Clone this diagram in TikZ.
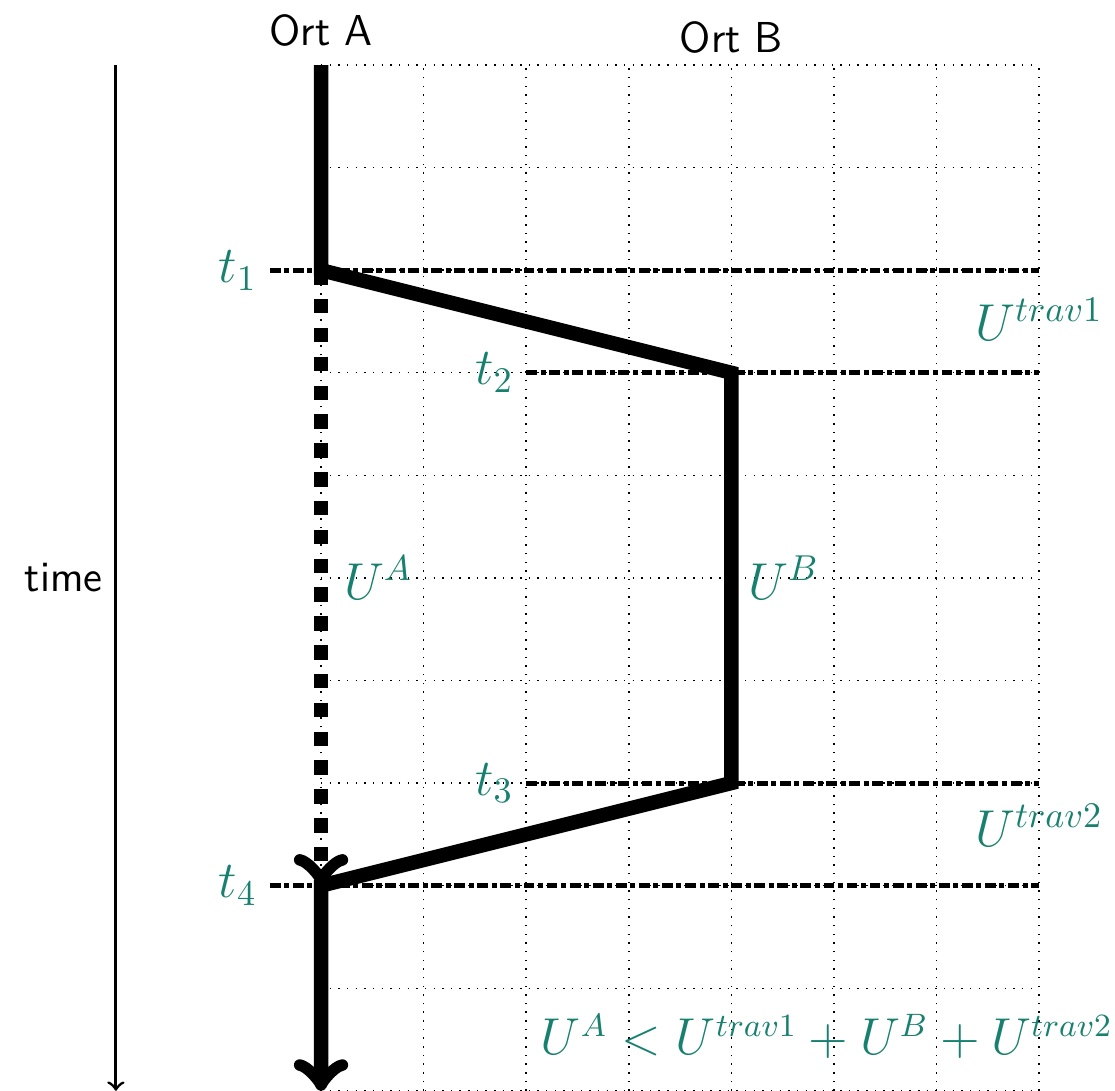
\documentclass[tikz,border=0pt]{standalone}
\usepackage{tikz}
\usetikzlibrary{positioning, calc}
\definecolor{labelteal}{HTML}{18806F}

\begin{document}
\begin{tikzpicture}[
  helpgrid/.style={dotted},
  worldline/.style={line width=4pt, ->},
  waitline/.style={line width=4pt, loosely dotted, ->},
  timemark/.style={line width=1.4pt, densely dashdotted},
  tlabel/.style={text=labelteal, font=\Large, left},
  ulabel/.style={text=labelteal, font=\Large},
  place/.style={font=\large\sffamily},
  arrow/.style={->, thick}
]
  \useasboundingbox (-3.13,-10) rectangle (7.74,0.634);

  % grid
  \draw[helpgrid] (0,-10) grid (7,0);

  % points in time
  \coordinate (A0) at (0,0);
  \coordinate (A1) at (0,-2);
  \coordinate (B2) at (4,-3);
  \coordinate (B3) at (4,-7);
  \coordinate (A4) at (0,-8);
  \coordinate (A5) at (0,-10);

  % time axis
  \coordinate (tstart) at (-2,0);
  \coordinate (tend) at (-2,-10);
  \draw[arrow] (tstart) -- (tend) node[midway, left, place] (timelabel) {time};

  \node[place] (ortA) at (0,0.34) {Ort A};
  \node[place] (ortB) at (4,0.27) {Ort B};

  % time marks
  \coordinate (m1) at (-0.5,-2);
  \coordinate (m2) at (2,-3);
  \coordinate (m3) at (2,-7);
  \coordinate (m4) at (-0.5,-8);
  \draw[timemark] (m1) -- ++(7.5,0);
  \draw[timemark] (m2) -- ++(5,0);
  \draw[timemark] (m3) -- ++(5,0);
  \draw[timemark] (m4) -- ++(7.5,0);
  \node[tlabel] (t1) at (m1) {$t_1$};
  \node[tlabel] (t2) at (m2) {$t_2$};
  \node[tlabel] (t3) at (m3) {$t_3$};
  \node[tlabel] (t4) at (m4) {$t_4$};

  % paths
  \draw[waitline] (A1) -- (A4);
  \draw[worldline] (A0) -- (A1) -- (B2) -- (B3) -- (A4) -- (A5);

  \node[ulabel, right] (uA) at (0.1,-5) {$U^A$};
  \node[ulabel, right] (uB) at (4.04,-5) {$U^B$};
  \node[ulabel] (utrav1) at (7.0,-2.48) {$U^{trav1}$};
  \node[ulabel] (utrav2) at (7.0,-7.41) {$U^{trav2}$};
  \node[ulabel, font=\fontsize{13.5}{16}\selectfont] (cond) at (4.93,-9.47) {$U^A < U^{trav1} + U^B + U^{trav2}$};
\end{tikzpicture}
\end{document}
